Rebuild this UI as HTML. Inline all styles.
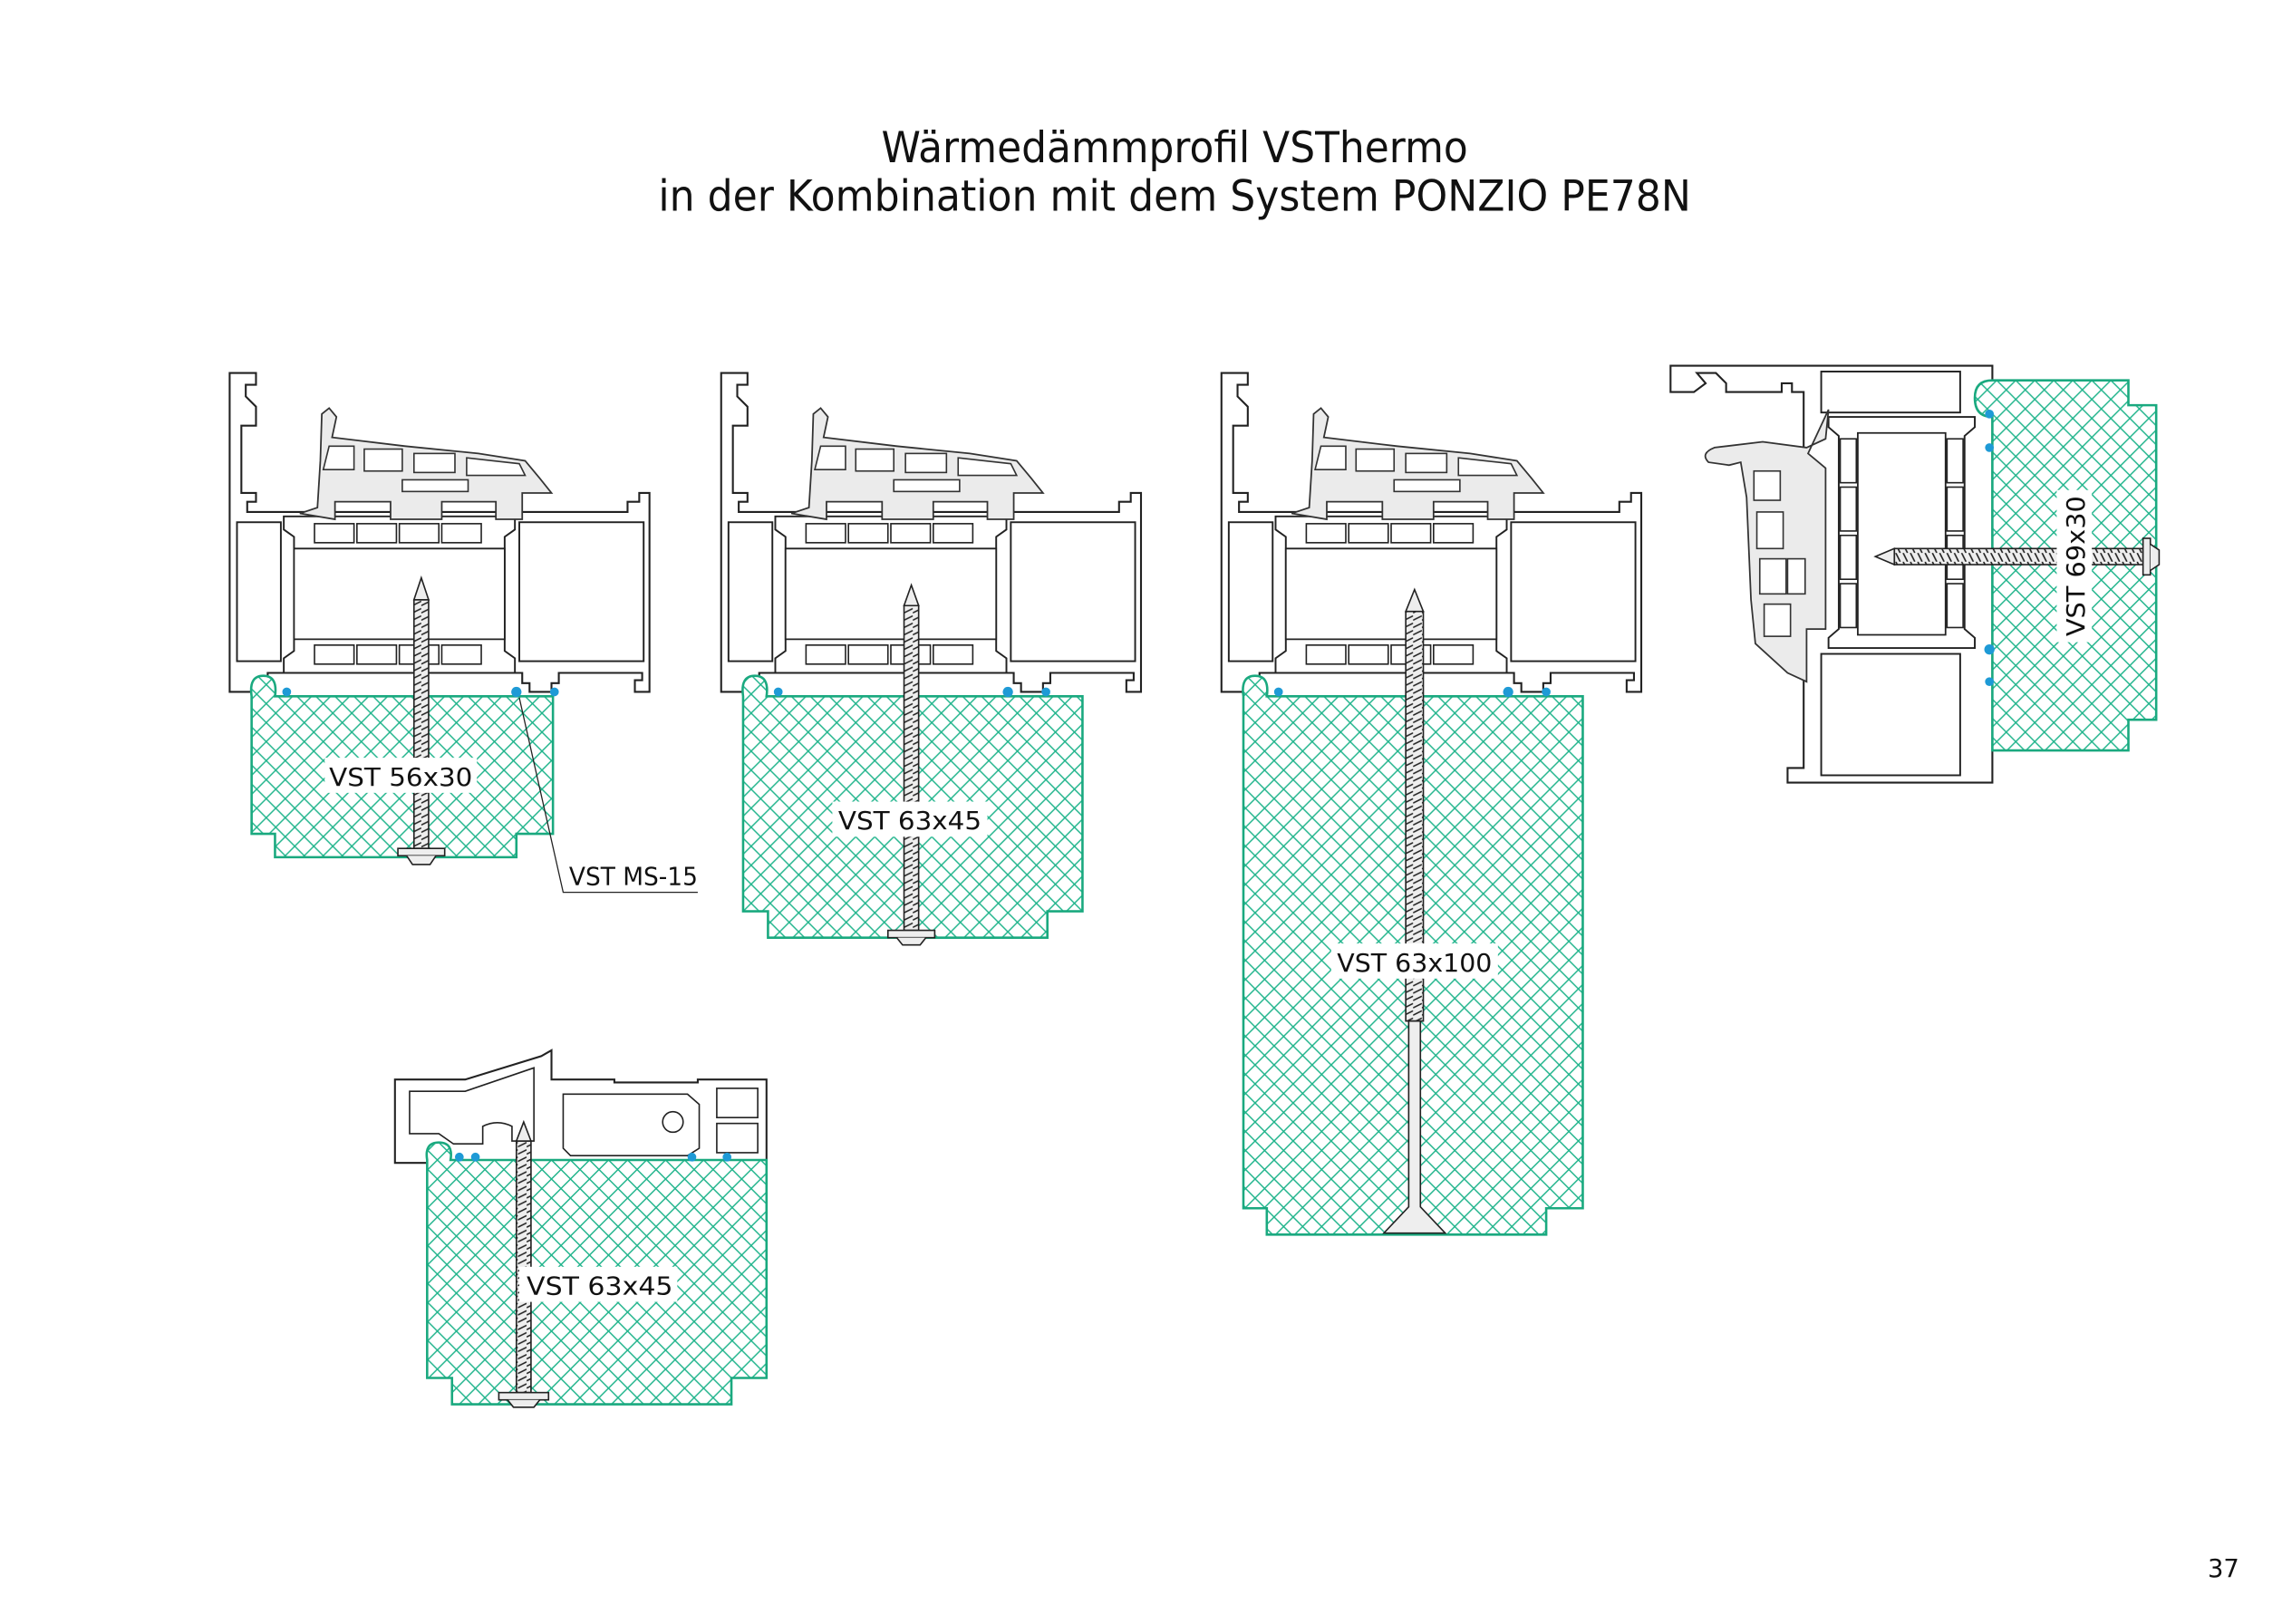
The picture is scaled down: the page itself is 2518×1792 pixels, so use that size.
<!DOCTYPE html>
<html><head><meta charset="utf-8"><style>
html,body{margin:0;padding:0;background:#fff}
svg{display:block}
.t{font-family:"DejaVu Sans","Liberation Sans",sans-serif}
.l{font-family:"DejaVu Sans","Liberation Sans",sans-serif;font-size:17px;fill:#111}
</style></head><body>
<svg width="2518" height="1792" viewBox="0 0 1560 1110.2" xmlns="http://www.w3.org/2000/svg">
<defs>
<pattern id="h" width="13" height="13" patternUnits="userSpaceOnUse">
<rect width="13" height="13" fill="#fff"/>
<path d="M0,0L13,13M13,0L0,13" stroke="#1db38a" stroke-width="0.9"/>
</pattern>
<pattern id="th" width="6" height="5" patternUnits="userSpaceOnUse">
<rect width="6" height="5" fill="#eee"/>
<path d="M0,4L6,1" stroke="#222" stroke-width="1"/>
</pattern>
<pattern id="thh" width="5" height="6" patternUnits="userSpaceOnUse">
<rect width="5" height="6" fill="#eee"/>
<path d="M1,0L4,6" stroke="#222" stroke-width="1"/>
</pattern>
<g id="frame">
<path d="M0,0H18V8H11V16L18,23V36H8V82H18V88H12V95H272V88H280V82H287V218H277V210H282V205H225V212H220V218H205V212H200V205H26V212H20V218H0Z" fill="#fff" stroke="#222" stroke-width="1.3"/>
<rect x="5" y="102" width="30" height="95" fill="#fff" stroke="#222" stroke-width="1.2"/>
<rect x="198" y="102" width="85" height="95" fill="#fff" stroke="#222" stroke-width="1.2"/>
<path d="M37,98H195V107L188,112V190L195,195V205H37V195L44,190V112L37,107Z" fill="#fff" stroke="#222" stroke-width="1.2"/>
<path d="M44,120H188V182H44Z" fill="#fff" stroke="#222" stroke-width="1.1"/>
<g fill="#fff" stroke="#222" stroke-width="1">
<rect x="58" y="103" width="27" height="13"/><rect x="87" y="103" width="27" height="13"/><rect x="116" y="103" width="27" height="13"/><rect x="145" y="103" width="27" height="13"/>
<rect x="58" y="186" width="27" height="13"/><rect x="87" y="186" width="27" height="13"/><rect x="116" y="186" width="27" height="13"/><rect x="145" y="186" width="27" height="13"/>
</g>
<path d="M48,96L60,92L62,60L63,28L68,24L73,30L70,44L120,50L170,55L202,60L212,72L220,82L200,82V100H182V88H145V100H110V88H72V100Z" fill="#ebebeb" stroke="#333" stroke-width="1.1"/>
<g fill="#fff" stroke="#333" stroke-width="1"><path d="M68,50H85V66H64Z"/><rect x="92" y="52" width="26" height="15"/><rect x="126" y="55" width="28" height="13"/><path d="M162,58L198,62L202,70H162Z"/><rect x="118" y="73" width="45" height="8"/></g>
</g>
<g id="scr">
<rect x="-5" y="0" width="10" height="100" fill="url(#th)" stroke="#222" stroke-width="1"/>
</g>
</defs>

<text class="t" x="803" y="111" font-size="29" text-anchor="middle" fill="#111" textLength="401" lengthAdjust="spacingAndGlyphs">Wärmedämmprofil VSThermo</text>
<text class="t" x="803" y="144" font-size="29" text-anchor="middle" fill="#111" textLength="706" lengthAdjust="spacingAndGlyphs">in der Kombination mit dem System PONZIO PE78N</text>

<!-- Detail 1 -->
<use href="#frame" x="157" y="255"/>
<path d="M172,476Q170,462 180,462Q190,462 188,476H378V570H353V586H188V570H172Z" fill="url(#h)" stroke="#1aa97f" stroke-width="1.6"/>
<rect x="283" y="410" width="10" height="170" fill="url(#th)" stroke="#222"/>
<path d="M283,410L288,395L293,410Z" fill="#eee" stroke="#222"/>
<rect x="272" y="580" width="32" height="5" fill="#eee" stroke="#222"/><path d="M278,585L282,591H294L298,585" fill="#eee" stroke="#222"/>
<g fill="#1e9ad6"><circle cx="196" cy="473" r="3"/><circle cx="353" cy="473" r="3.5"/><circle cx="379" cy="473" r="3"/></g>
<rect x="222" y="518" width="104" height="24" fill="#fff"/>
<text class="l" x="274" y="537" text-anchor="middle" textLength="98" lengthAdjust="spacingAndGlyphs">VST 56x30</text>
<path d="M355,477L385,610H477" fill="none" stroke="#222" stroke-width="0.8"/>
<text class="l" x="389" y="605" font-size="16" textLength="88" lengthAdjust="spacingAndGlyphs">VST MS-15</text>

<!-- Detail 2 -->
<use href="#frame" x="493" y="255"/>
<path d="M508,476Q506,462 516,462Q526,462 524,476H740V623H716V641H525V623H508Z" fill="url(#h)" stroke="#1aa97f" stroke-width="1.6"/>
<rect x="618" y="414" width="10" height="222" fill="url(#th)" stroke="#222"/>
<path d="M618,414L623,400L628,414Z" fill="#eee" stroke="#222"/>
<rect x="607" y="636" width="32" height="5" fill="#eee" stroke="#222"/><path d="M613,641L617,646H629L633,641" fill="#eee" stroke="#222"/>
<g fill="#1e9ad6"><circle cx="532" cy="473" r="3"/><circle cx="689" cy="473" r="3.5"/><circle cx="715" cy="473" r="3"/></g>
<rect x="569" y="548" width="106" height="24" fill="#fff"/>
<text class="l" x="622" y="567" text-anchor="middle" textLength="98" lengthAdjust="spacingAndGlyphs">VST 63x45</text>

<!-- Detail 3 -->
<use href="#frame" x="835" y="255"/>
<path d="M850,476Q848,462 858,462Q868,462 866,476H1082V826H1057V844H866V826H850Z" fill="url(#h)" stroke="#1aa97f" stroke-width="1.6"/>
<rect x="961" y="418" width="12" height="280" fill="url(#th)" stroke="#222"/>
<path d="M961,418L967,403L973,418Z" fill="#eee" stroke="#222"/>
<path d="M963,698H971V825L988,843H946L963,825Z" fill="#eee" stroke="#222"/>
<g fill="#1e9ad6"><circle cx="874" cy="473" r="3"/><circle cx="1031" cy="473" r="3.5"/><circle cx="1057" cy="473" r="3"/></g>
<rect x="910" y="645" width="114" height="24" fill="#fff"/>
<text class="l" x="967" y="664" text-anchor="middle" textLength="106" lengthAdjust="spacingAndGlyphs">VST 63x100</text>

<!-- Detail 4 -->
<path d="M1142,250H1362V268H1355V275H1362V535H1222V525H1233V268H1225V262H1218V268H1180V262L1173,255H1160L1166,262L1158,268H1142Z" fill="#fff" stroke="#222" stroke-width="1.3"/>
<rect x="1245" y="254" width="95" height="28" fill="#fff" stroke="#222" stroke-width="1.2"/>
<rect x="1245" y="447" width="95" height="83" fill="#fff" stroke="#222" stroke-width="1.2"/>
<path d="M1250,285H1350V292L1343,298V430L1350,436V443H1250V436L1257,430V298L1250,292Z" fill="#fff" stroke="#222" stroke-width="1.2"/>
<path d="M1270,296H1330V434H1270Z" fill="#fff" stroke="#222" stroke-width="1.1"/>
<g fill="#fff" stroke="#222" stroke-width="1"><rect x="1258" y="300" width="11" height="30"/><rect x="1258" y="333" width="11" height="30"/><rect x="1258" y="366" width="11" height="30"/><rect x="1258" y="399" width="11" height="30"/><rect x="1331" y="300" width="11" height="30"/><rect x="1331" y="333" width="11" height="30"/><rect x="1331" y="366" width="11" height="30"/><rect x="1331" y="399" width="11" height="30"/></g>
<path d="M1250,280L1248,300L1235,306L1205,302L1172,306Q1162,310 1168,316L1182,318L1190,316L1194,340L1197,410L1200,440L1222,460L1235,466V430L1248,430V320L1236,310Z" fill="#ebebeb" stroke="#333" stroke-width="1.1"/>
<g fill="#fff" stroke="#333" stroke-width="1"><rect x="1199" y="322" width="18" height="20"/><rect x="1201" y="350" width="18" height="25"/><rect x="1203" y="382" width="18" height="24"/><rect x="1222" y="382" width="12" height="24"/><rect x="1206" y="413" width="18" height="22"/></g>
<path d="M1362,285Q1350,285 1350,272Q1350,260 1362,260H1455V277H1474V492H1455V513H1362Z" fill="url(#h)" stroke="#1aa97f" stroke-width="1.6"/>
<rect x="1295" y="375" width="170" height="11" fill="url(#thh)" stroke="#222"/>
<path d="M1295,375L1282,380.5L1295,386Z" fill="#eee" stroke="#222"/>
<rect x="1465" y="368" width="5" height="25" fill="#eee" stroke="#222"/><path d="M1470,372L1476,376V386L1470,390" fill="#eee" stroke="#222"/>
<g fill="#1e9ad6"><circle cx="1360" cy="283" r="3"/><circle cx="1360" cy="306" r="3"/><circle cx="1360" cy="444" r="3.5"/><circle cx="1360" cy="466" r="3"/></g>
<rect x="1406" y="335" width="24" height="104" fill="#fff"/>
<text class="l" transform="translate(1425,387) rotate(-90)" text-anchor="middle" textLength="96" lengthAdjust="spacingAndGlyphs">VST 69x30</text>

<!-- Detail 5 (bottom) -->
<path d="M270,738H318L370,722L377,718V738H420V740H477V738H524V795H270Z" fill="#fff" stroke="#222" stroke-width="1.3"/>
<path d="M280,746H318L365,730V780H350V770Q340,765 330,770V782H310L300,775H280Z" fill="#fff" stroke="#222" stroke-width="1"/>
<path d="M385,748H470L478,755V785L470,790H390L385,785Z" fill="#fff" stroke="#222" stroke-width="1"/>
<rect x="490" y="744" width="28" height="20" fill="#fff" stroke="#222"/>
<rect x="490" y="768" width="28" height="20" fill="#fff" stroke="#222"/>
<circle cx="460" cy="767" r="7" fill="#fff" stroke="#222"/>
<path d="M292,793Q290,781 300,781Q310,781 308,793H524V942H500V960H309V942H292Z" fill="url(#h)" stroke="#1aa97f" stroke-width="1.6"/>
<rect x="353" y="780" width="10" height="172" fill="url(#th)" stroke="#222"/>
<path d="M353,780L358,767L363,780Z" fill="#eee" stroke="#222"/>
<rect x="341" y="952" width="34" height="5" fill="#eee" stroke="#222"/><path d="M347,957L351,962H365L369,957" fill="#eee" stroke="#222"/>
<g fill="#1e9ad6"><circle cx="314" cy="791" r="3"/><circle cx="325" cy="791" r="3"/><circle cx="473" cy="791" r="3"/><circle cx="497" cy="791" r="3"/></g>
<rect x="355" y="866" width="108" height="24" fill="#fff"/>
<text class="l" x="410" y="885" text-anchor="middle" textLength="100" lengthAdjust="spacingAndGlyphs">VST 63x45</text>

<text class="l" x="1520" y="1078" font-size="15" text-anchor="middle">37</text>
</svg>
</body></html>
